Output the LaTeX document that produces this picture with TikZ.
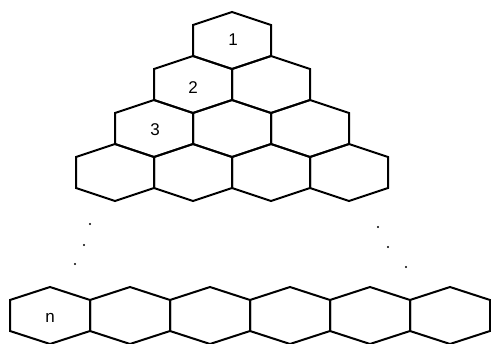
\documentclass[tikz,border=0pt]{standalone}
\usepackage{fontspec}
\setmainfont{Liberation Sans}
\begin{document}
\begin{tikzpicture}[x=1pt,y=-1pt,
  hexline/.style={line width=2pt, line join=miter},
  lab/.style={font=\fontsize{17}{20}\selectfont, inner sep=0pt},
  dotmark/.style={circle, fill=black, inner sep=0pt, minimum size=2.2pt}]
\useasboundingbox (0,0) rectangle (491,344);
\clip (0,0) rectangle (491,344);
\newcommand\hexcell[3]{%
  \draw[hexline] (#1,#2) -- ({#1+#3},{#2+13}) -- ({#1+#3},{#2+44}) -- (#1,{#2+57}) -- ({#1-#3},{#2+44}) -- ({#1-#3},{#2+13}) -- cycle;}
% triangle rows
\foreach \r in {0,...,3}{
  \foreach \k in {0,...,\r}{
    \pgfmathsetmacro\cx{232-39*\r+78*\k}
    \pgfmathsetmacro\ty{12+44*\r}
    \hexcell{\cx}{\ty}{39}
  }
}
% bottom row
\foreach \k in {0,...,5}{
  \pgfmathsetmacro\cx{50+80*\k}
  \hexcell{\cx}{287}{40}
}
% labels
\node[lab] (l1) at (233,40) {1};
\node[lab] (l2) at (193,88) {2};
\node[lab] (l3) at (155,130) {3};
\node[lab] (ln) at (50,318) {n};
% dots
\node[dotmark] (d1) at (90,224) {};
\node[dotmark] (d2) at (84,245) {};
\node[dotmark] (d3) at (75,264) {};
\node[dotmark] (d4) at (378,227) {};
\node[dotmark] (d5) at (388,247) {};
\node[dotmark] (d6) at (406,267) {};
\end{tikzpicture}
\end{document}
